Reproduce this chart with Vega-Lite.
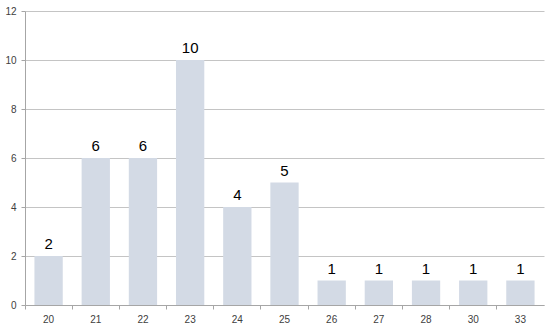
{
  "$schema": "https://vega.github.io/schema/vega-lite/v6.json",
  "autosize": {"type": "fit", "contains": "padding"},
  "width": 550,
  "height": 327,
  "padding": {"left": 4, "top": 6, "right": 6, "bottom": 3},
  "background": "white",
  "config": {
    "view": {"stroke": null},
    "font": "Liberation Sans"
  },
  "data": {
    "values": [
      {"age": "20", "count": 2},
      {"age": "21", "count": 6},
      {"age": "22", "count": 6},
      {"age": "23", "count": 10},
      {"age": "24", "count": 4},
      {"age": "25", "count": 5},
      {"age": "26", "count": 1},
      {"age": "27", "count": 1},
      {"age": "28", "count": 1},
      {"age": "30", "count": 1},
      {"age": "33", "count": 1}
    ]
  },
  "encoding": {
    "x": {
      "field": "age",
      "type": "ordinal",
      "sort": null,
      "scale": {"paddingInner": 0, "paddingOuter": 0},
      "axis": {
        "title": null,
        "labelAngle": 0,
        "labelFontSize": 10,
        "labelColor": "#404040",
        "labelPadding": 5,
        "domainColor": "#A6A6A6",
        "ticks": true,
        "bandPosition": 0,
        "tickColor": "#A6A6A6",
        "tickSize": 4
      }
    },
    "y": {
      "field": "count",
      "type": "quantitative",
      "scale": {"domain": [0, 12], "nice": false},
      "axis": {
        "title": null,
        "values": [0, 2, 4, 6, 8, 10, 12],
        "labelFontSize": 10,
        "labelColor": "#404040",
        "domainColor": "#A6A6A6",
        "tickColor": "#A6A6A6",
        "tickSize": 4,
        "labelPadding": 5,
        "gridColor": "#C4C4C4",
        "gridWidth": 1
      }
    }
  },
  "layer": [
    {"mark": {"type": "bar", "color": "#D3DAE5", "width": {"band": 0.6}}},
    {
      "mark": {"type": "text", "dy": -12, "fontSize": 15, "color": "#000000"},
      "encoding": {"text": {"field": "count", "type": "quantitative"}}
    }
  ]
}
